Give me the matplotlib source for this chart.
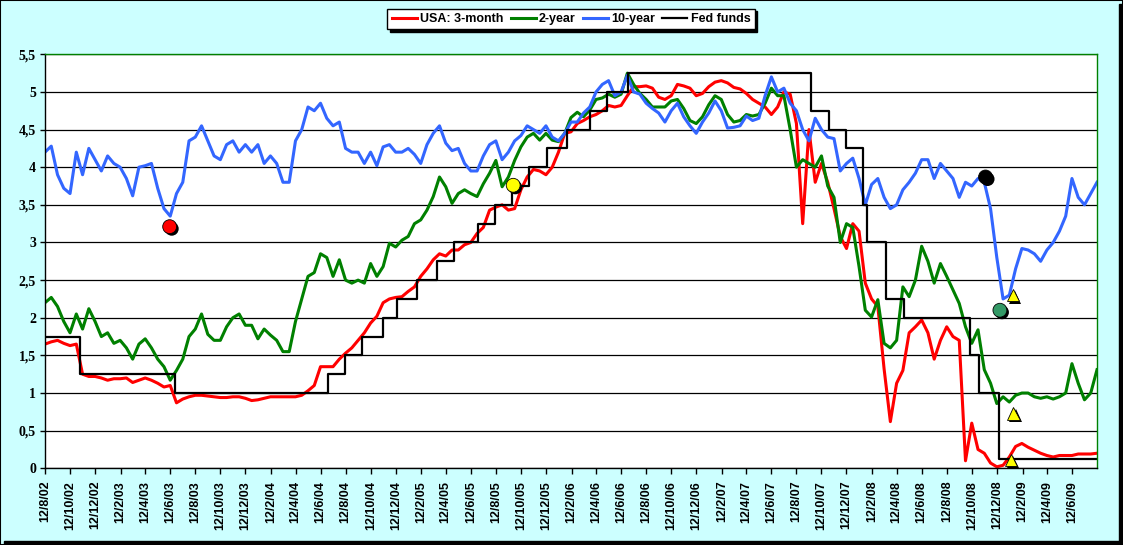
import numpy as np
import pandas as pd
import matplotlib
matplotlib.use('Agg')
import matplotlib.pyplot as plt
import matplotlib.patheffects as pe
from matplotlib.patches import Rectangle

# ---------------- data ----------------
start_date, end_date = '2002-08-12', '2009-08-12'
n_points = 169  # semi-monthly readings

red_3m = [1.65, 1.68, 1.70, 1.66, 1.63, 1.65, 1.25, 1.22, 1.22, 1.20,
          1.17, 1.19, 1.19, 1.20, 1.14, 1.17, 1.20, 1.17, 1.13, 1.08,
          1.10, 0.87, 0.92, 0.95, 0.97, 0.97, 0.96, 0.95, 0.94, 0.94,
          0.95, 0.95, 0.93, 0.90, 0.91, 0.93, 0.95, 0.95, 0.95, 0.95,
          0.95, 0.97, 1.03,
          1.10, 1.35, 1.35, 1.35, 1.45, 1.53, 1.60, 1.70, 1.80, 1.93,
          2.02, 2.20, 2.25, 2.27, 2.28, 2.35, 2.41, 2.55, 2.65, 2.77,
          2.85, 2.82, 2.90, 2.90, 2.97, 3.00, 3.12, 3.20, 3.43, 3.47,
          3.50, 3.43, 3.45, 3.70, 3.87, 3.97, 3.95, 3.90, 4.00, 4.20,
          4.45,
          4.47, 4.58, 4.62, 4.67, 4.70, 4.75, 4.82, 4.80, 4.82, 4.95,
          5.07, 5.07, 5.08, 5.05, 4.93, 4.90, 4.95, 5.10, 5.08, 5.05,
          4.95, 4.98, 5.07, 5.13, 5.15, 5.12, 5.06, 5.04, 4.98, 4.90,
          4.85, 4.80, 4.70, 4.80, 5.00, 4.97, 4.58, 3.25, 4.50, 3.80,
          4.05, 3.80,
          3.45, 3.08, 2.92, 3.25, 3.15, 2.46, 2.25, 2.15, 1.32, 0.62,
          1.13, 1.30, 1.80, 1.88, 1.97, 1.80, 1.45, 1.70, 1.88, 1.75,
          1.70, 0.10, 0.60, 0.25, 0.20, 0.07, 0.02, 0.04, 0.15, 0.29,
          0.33, 0.28, 0.24, 0.20, 0.17, 0.15, 0.17, 0.17, 0.17, 0.19,
          0.19, 0.19, 0.20]

green_2y = [2.20, 2.27, 2.15, 1.95, 1.80, 2.05, 1.85, 2.12, 1.95, 1.75,
            1.80, 1.66, 1.70, 1.60, 1.45, 1.65, 1.72, 1.60, 1.45, 1.35,
            1.17, 1.30, 1.45, 1.75, 1.85, 2.05, 1.78, 1.70, 1.70, 1.88,
            2.00, 2.05, 1.90, 1.90, 1.72, 1.85, 1.77, 1.70, 1.55, 1.55,
            1.95, 2.25, 2.55,
            2.60, 2.85, 2.80, 2.55, 2.77, 2.50, 2.46, 2.50, 2.46, 2.72,
            2.55, 2.68, 2.99, 2.94, 3.03, 3.08, 3.25, 3.30, 3.43, 3.61,
            3.87, 3.74, 3.52, 3.65, 3.70, 3.65, 3.61, 3.78, 3.92, 4.09,
            3.74, 3.87, 4.09, 4.27, 4.40, 4.45, 4.36, 4.45, 4.36, 4.34,
            4.45,
            4.66, 4.73, 4.67, 4.76, 4.90, 4.92, 4.97, 4.93, 4.97, 5.25,
            5.10, 4.98, 4.90, 4.80, 4.80, 4.80, 4.88, 4.90, 4.78, 4.62,
            4.58, 4.67, 4.83, 4.95, 4.90, 4.70, 4.60, 4.62, 4.70, 4.68,
            4.70, 4.85, 5.05, 4.95, 4.95, 4.50, 4.00, 4.10, 4.05, 4.00,
            4.15, 3.75,
            3.60, 3.00, 3.25, 3.20, 2.68, 2.10, 2.01, 2.24, 1.66, 1.60,
            1.70, 2.41, 2.28, 2.50, 2.95, 2.75, 2.46, 2.72, 2.55, 2.37,
            2.19, 1.88, 1.66, 1.84, 1.31, 1.13, 0.86, 0.95, 0.88, 0.97,
            1.00, 1.00, 0.95, 0.93, 0.95, 0.92, 0.95, 1.00, 1.39, 1.13,
            0.91, 1.00, 1.31]

blue_10y = [4.20, 4.28, 3.90, 3.72, 3.65, 4.20, 3.90, 4.25, 4.10, 3.95,
            4.15, 4.05, 4.00, 3.85, 3.62, 4.00, 4.02, 4.05, 3.72, 3.45,
            3.35, 3.65, 3.80, 4.35, 4.40, 4.55, 4.35, 4.15, 4.10, 4.30,
            4.35, 4.20, 4.30, 4.20, 4.30, 4.05, 4.15, 4.05, 3.80, 3.80,
            4.35, 4.50, 4.80,
            4.75, 4.85, 4.65, 4.55, 4.60, 4.25, 4.20, 4.20, 4.05, 4.20,
            4.02, 4.27, 4.30, 4.20, 4.20, 4.25, 4.17, 4.05, 4.30, 4.45,
            4.55, 4.32, 4.22, 4.25, 4.05, 3.95, 3.95, 4.15, 4.30, 4.35,
            4.10, 4.20, 4.35, 4.42, 4.55, 4.50, 4.45, 4.55, 4.40, 4.35,
            4.45,
            4.60, 4.60, 4.72, 4.80, 5.00, 5.10, 5.15, 4.95, 5.00, 5.22,
            5.00, 4.97, 4.85, 4.78, 4.72, 4.60, 4.75, 4.85, 4.67, 4.55,
            4.45, 4.60, 4.72, 4.88, 4.75, 4.52, 4.53, 4.55, 4.68, 4.62,
            4.65, 4.95, 5.20, 5.00, 5.05, 4.85, 4.75, 4.50, 4.35, 4.65,
            4.50, 4.40,
            4.38, 3.95, 4.05, 4.12, 3.85, 3.50, 3.77, 3.85, 3.60, 3.45,
            3.50, 3.70, 3.80, 3.92, 4.10, 4.10, 3.85, 4.05, 3.95, 3.85,
            3.60, 3.80, 3.75, 3.85, 3.80, 3.45, 2.80, 2.25, 2.30, 2.65,
            2.92, 2.90, 2.85, 2.75, 2.90, 3.00, 3.15, 3.35, 3.85, 3.60,
            3.50, 3.65, 3.80]

fed_dates = ['2002-08-12', '2002-11-06', '2003-06-25', '2004-06-30', '2004-08-10',
             '2004-09-21', '2004-11-10', '2004-12-14', '2005-02-02', '2005-03-22',
             '2005-05-03', '2005-06-30', '2005-08-09', '2005-09-20', '2005-11-01',
             '2005-12-13', '2006-01-31', '2006-03-28', '2006-05-10', '2006-06-29',
             '2007-09-18', '2007-10-31', '2007-12-11', '2008-01-22', '2008-01-30',
             '2008-03-18', '2008-04-30', '2008-10-08', '2008-10-29', '2008-12-16',
             '2009-08-12']
fed_rates = [1.75, 1.25, 1.00, 1.25, 1.50, 1.75, 2.00, 2.25, 2.50, 2.75,
             3.00, 3.25, 3.50, 3.75, 4.00, 4.25, 4.50, 4.75, 5.00, 5.25,
             4.75, 4.50, 4.25, 3.50, 3.00, 2.25, 2.00, 1.50, 1.00, 0.125,
             0.125]

marker_dates = ['2003-06-11', '2005-09-23', '2008-11-14', '2008-12-19',
                '2009-01-20', '2009-01-21', '2009-01-15']
marker_vals = [3.21, 3.76, 3.87, 2.10, 2.30, 0.73, 0.11]
marker_colors = ['#FF0000', '#FFFF00', '#000000', '#339966',
                 '#FFFF00', '#FFFF00', '#FFFF00']
marker_shapes = ['o', 'o', 'o', 'o', '^', '^', '^']

series_labels = ['USA: 3-month', '2-year', '10-year', 'Fed funds']
y_ticks = [0, 0.5, 1, 1.5, 2, 2.5, 3, 3.5, 4, 4.5, 5, 5.5]

# ---------------- figure ----------------
W, H = 1123, 545
fig = plt.figure(figsize=(W / 100, H / 100), dpi=100, facecolor='#CCFFFF')
ax = fig.add_axes([45 / W, 1 - 468.3 / H, 1052 / W, 414 / H])
ax.set_facecolor('white')
ax.set_axisbelow(True)

dates = pd.date_range(start_date, end_date, periods=n_points)
l1, = ax.plot(dates, red_3m, color='#FF0000', lw=2.2, zorder=2)
l2, = ax.plot(dates, green_2y, color='#008000', lw=2.2, zorder=2.1)
l3, = ax.plot(dates, blue_10y, color='#3366FF', lw=2.2, zorder=2.2)
l4, = ax.step(pd.to_datetime(fed_dates), fed_rates, where='post',
              color='black', lw=1.6, zorder=2.3)

shadow = [pe.SimplePatchShadow(offset=(1.5, -1.5), shadow_rgbFace='black', alpha=1.0),
          pe.Normal()]
for d, v, c, m in zip(pd.to_datetime(marker_dates), marker_vals, marker_colors, marker_shapes):
    ax.plot([d], [v], marker=m, ls='none', ms=10 if m == 'o' else 9,
            mfc=c, mec='black', mew=0.6, zorder=5, path_effects=shadow)

ax.set_xlim(pd.Timestamp(start_date), pd.Timestamp(end_date))
ax.set_ylim(0, 5.5)

ax.set_yticks(y_ticks, [f'{v:g}'.replace('.', ',') for v in y_ticks],
              fontfamily='Liberation Serif', fontweight='bold', fontsize=10)
tick_dates = pd.date_range('2002-08-01', '2009-06-01', freq='2MS') + pd.Timedelta(days=11)
ax.set_xticks(tick_dates, [f'{d.day}/{d.month}/{d:%y}' for d in tick_dates],
              rotation=90, fontfamily='Liberation Sans', fontweight='bold', fontsize=9)
ax.tick_params(axis='y', direction='out', length=3.5, width=1, pad=3, colors='black')
ax.tick_params(axis='x', direction='out', length=4, width=1, pad=5, colors='black')

ax.yaxis.grid(True, color='black', lw=0.9)
ax.xaxis.grid(False)
for s in ['left', 'bottom']:
    ax.spines[s].set_color('black')
    ax.spines[s].set_linewidth(1.0)
for s in ['top', 'right']:
    ax.spines[s].set_color('#008000')
    ax.spines[s].set_linewidth(1.0)

leg = fig.legend([l1, l2, l3, l4], series_labels, loc='upper center',
                 bbox_to_anchor=(570.9 / W, 1 - 8.7 / H), ncol=4, frameon=True,
                 fancybox=False, shadow={'color': 'black', 'alpha': 1.0},
                 edgecolor='black', framealpha=1, facecolor='white',
                 prop={'family': 'Liberation Sans', 'weight': 'bold', 'size': 9},
                 handlelength=2.0, handletextpad=0.25, columnspacing=0.6,
                 borderpad=0.35, borderaxespad=0)
leg.get_frame().set_linewidth(1.0)

# outer chart border with shadow
fig.patches.append(Rectangle((0, 0), 1, 1, transform=fig.transFigure, fill=False,
                             ec='black', lw=1.5, zorder=10))
fig.patches.append(Rectangle((1 - 4 / W, 0), 4 / W, 1 - 4 / H, transform=fig.transFigure,
                             color='black', zorder=10))
fig.patches.append(Rectangle((4 / W, 0), 1 - 4 / W, 4 / H, transform=fig.transFigure,
                             color='black', zorder=10))

fig.savefig('out.png', dpi=100, facecolor=fig.get_facecolor())
